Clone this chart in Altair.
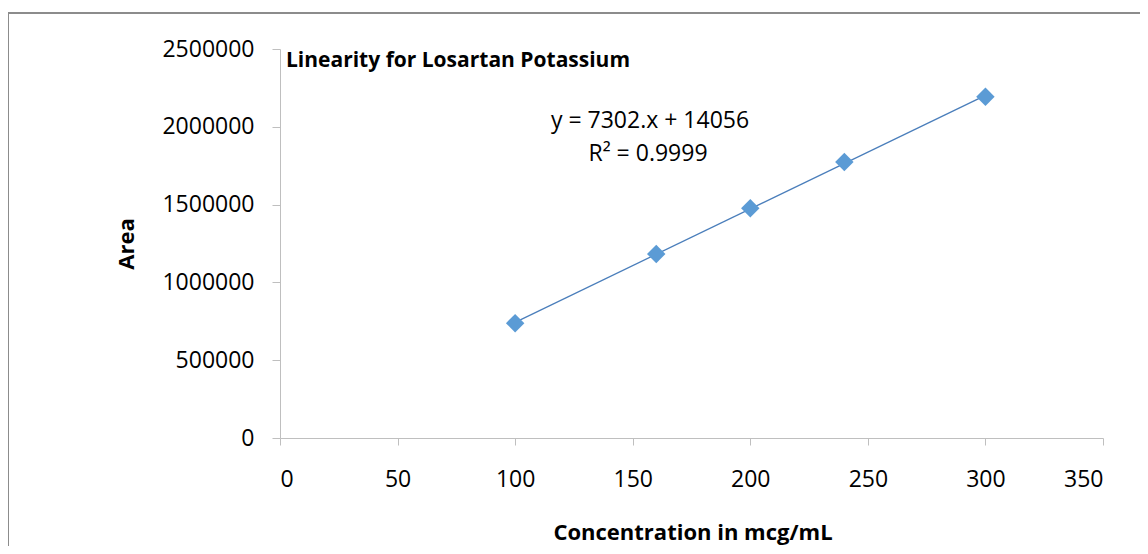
import altair as alt
import pandas as pd

conc = [100, 160, 200, 240, 300]
area = [738000, 1182000, 1476000, 1774000, 2193000]
x_ticks = [0, 50, 100, 150, 200, 250, 300, 350]
y_ticks = [0, 500000, 1000000, 1500000, 2000000, 2500000]
title_text = "Linearity for Losartan Potassium"
eq_lines = ["y = 7302.x + 14056", "R² = 0.9999"]

df = pd.DataFrame({"conc": conc, "area": area})

FONT = "Open Sans"
W, H = 823, 389

x_enc = alt.X("conc:Q",
              scale=alt.Scale(domain=[0, 350], nice=False, zero=False),
              axis=alt.Axis(values=x_ticks, title="Concentration in mcg/mL",
                            grid=False, domainColor="#bfbfbf", tickColor="#bfbfbf",
                            tickSize=7, labelPadding=23, labelFontSize=23,
                            labelFont=FONT, labelColor="#000000",
                            titleFont=FONT, titleFontSize=22, titleFontWeight="bold",
                            titleColor="#000000", titleBaseline="middle",
                            titleX=W / 2 + 1, titleY=94))
y_enc = alt.Y("area:Q",
              scale=alt.Scale(domain=[0, 2500000], nice=False),
              axis=alt.Axis(values=y_ticks, title="Area", format="d",
                            grid=False, domainColor="#bfbfbf", tickColor="#bfbfbf",
                            tickSize=8, labelPadding=18, labelFontSize=23,
                            labelFont=FONT, labelColor="#000000",
                            titleFont=FONT, titleFontSize=22, titleFontWeight="bold",
                            titleColor="#000000", titleAngle=-90, titleBaseline="middle",
                            titleX=-154, titleY=H / 2))

base = alt.Chart(df)

trend = base.transform_regression("conc", "area", extent=[100, 300]).mark_line(
    color="#4a7ebb", strokeWidth=1.3
).encode(x=x_enc, y=y_enc)

points = base.mark_point(shape="diamond", filled=True, size=340, color="#5b9bd5",
                         opacity=1).encode(x="conc:Q", y="area:Q")

title_df = pd.DataFrame({"t": [title_text]})
title = alt.Chart(title_df).mark_text(
    align="left", baseline="alphabetic", font=FONT, fontSize=21, fontWeight="bold",
    color="#000000"
).encode(x=alt.value(6), y=alt.value(18), text="t:N")

eq_df = pd.DataFrame({"t": [eq_lines[0]]})
eq_df2 = pd.DataFrame({"t": [eq_lines[1]]})
eq1 = alt.Chart(eq_df).mark_text(
    align="center", baseline="alphabetic", font=FONT, fontSize=23, color="#000000"
).encode(x=alt.value(650 - 280), y=alt.value(128 - 49), text="t:N")
eq2 = alt.Chart(eq_df2).mark_text(
    align="center", baseline="alphabetic", font=FONT, fontSize=23, color="#000000"
).encode(x=alt.value(648 - 280), y=alt.value(161 - 49), text="t:N")

# outer frame (top and left edges visible)
frame_top = alt.Chart(title_df).mark_rule(color="#8c8c8c", strokeWidth=2).encode(
    x=alt.value(8 - 280), x2=alt.value(1160 - 280), y=alt.value(13 - 49))
frame_left = alt.Chart(title_df).mark_rule(color="#8c8c8c", strokeWidth=2).encode(
    x=alt.value(8 - 280), y=alt.value(13 - 49), y2=alt.value(570 - 49))

chart = alt.layer(frame_top, frame_left, trend, points, title, eq1, eq2).properties(
    width=W, height=H,
    autosize=alt.AutoSizeParams(type="none"),
    padding={"left": 272, "top": 41, "right": 37, "bottom": 108},
    background="#ffffff",
).configure_view(stroke=None)

chart.save("out.html", embed_options={"renderer": "svg", "actions": False})
